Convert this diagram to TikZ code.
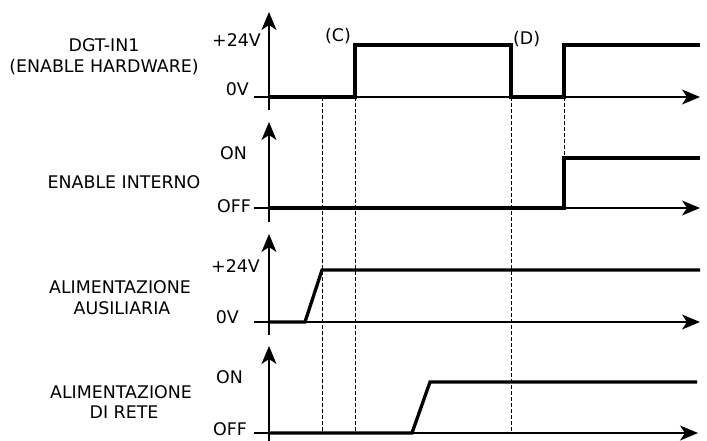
\documentclass[tikz,border=0pt]{standalone}
\usepackage{fontspec}
\setmainfont{DejaVu Sans}
\usetikzlibrary{arrows.meta}
\tikzset{
  axisline/.style={line width=1.6pt, -{Stealth[length=18pt,width=15pt,inset=5pt]}},
  sig/.style={line width=3.3pt, line join=miter},
  guide/.style={line width=0.9pt, dash pattern=on 4pt off 2pt},
  txtstyle/.style={font=\fontsize{17.4}{20}\selectfont, inner sep=0pt},
  levlabel/.style={txtstyle, anchor=base east},
  siglabel/.style={txtstyle, anchor=base},
}
\begin{document}
\begin{tikzpicture}[x=1pt,y=-1pt]
\useasboundingbox (0,0) rectangle (707,441);

% ---------- Panel 1 : DGT-IN1 ----------
\coordinate (v1b) at (269,110); \coordinate (v1t) at (269,12);
\coordinate (h1l) at (254,97);  \coordinate (h1r) at (700,97);
\draw[axisline] (v1b) -- (v1t);
\draw[axisline] (h1l) -- (h1r);
\coordinate (p1a) at (269,97); \coordinate (p1b) at (355,97); \coordinate (p1c) at (355,45);
\coordinate (p1d) at (511,45); \coordinate (p1e) at (511,97); \coordinate (p1f) at (564,97);
\coordinate (p1g) at (564,45); \coordinate (p1h) at (700,45);
\draw[sig] (p1a) -- (p1b) -- (p1c) -- (p1d) -- (p1e) -- (p1f) -- (p1g) -- (p1h);
\node[levlabel] (l1h) at (261,47) {+24V};
\node[levlabel] (l1l) at (249,96) {0V};
\node[txtstyle, anchor=base west] (lC) at (325,42) {(C)};
\node[txtstyle, anchor=base west] (lD) at (513,45) {(D)};
\node[siglabel] (n1a) at (104,52) {DGT-IN1};
\node[siglabel] (n1b) at (104,73) {(ENABLE HARDWARE)};

% ---------- Panel 2 : ENABLE INTERNO ----------
\coordinate (v2b) at (269,222); \coordinate (v2t) at (269,122);
\coordinate (h2l) at (254,208); \coordinate (h2r) at (700,208);
\draw[axisline] (v2b) -- (v2t);
\draw[axisline] (h2l) -- (h2r);
\coordinate (p2a) at (269,208); \coordinate (p2b) at (564,208);
\coordinate (p2c) at (564,158); \coordinate (p2d) at (700,158);
\draw[sig] (p2a) -- (p2b) -- (p2c) -- (p2d);
\node[levlabel] (l2h) at (247,160) {ON};
\node[levlabel] (l2l) at (251,212) {OFF};
\node[siglabel] (n2a) at (124,188) {ENABLE INTERNO};

% ---------- Panel 3 : ALIMENTAZIONE AUSILIARIA ----------
\coordinate (v3b) at (269,335); \coordinate (v3t) at (269,234);
\coordinate (h3l) at (254,322); \coordinate (h3r) at (700,322);
\draw[axisline] (v3b) -- (v3t);
\draw[axisline] (h3l) -- (h3r);
\coordinate (p3a) at (269,322); \coordinate (p3b) at (305,322);
\coordinate (p3c) at (322,270); \coordinate (p3d) at (700,270);
\draw[sig] (p3a) -- (p3b) -- (p3c) -- (p3d);
\node[levlabel] (l3h) at (260,272) {+24V};
\node[levlabel] (l3l) at (239,323) {0V};
\node[siglabel] (n3a) at (120,293) {ALIMENTAZIONE};
\node[siglabel] (n3b) at (122,314) {AUSILIARIA};

% ---------- Panel 4 : ALIMENTAZIONE DI RETE ----------
\coordinate (v4b) at (269,441); \coordinate (v4t) at (269,346);
\coordinate (h4l) at (254,433); \coordinate (h4r) at (698,433);
\draw[axisline] (v4b) -- (v4t);
\draw[axisline] (h4l) -- (h4r);
\coordinate (p4a) at (269,433); \coordinate (p4b) at (412,433);
\coordinate (p4c) at (430,382); \coordinate (p4d) at (697,382);
\draw[sig] (p4a) -- (p4b) -- (p4c) -- (p4d);
\node[levlabel] (l4h) at (243,383) {ON};
\node[levlabel] (l4l) at (247,435) {OFF};
\node[siglabel] (n4a) at (121,398) {ALIMENTAZIONE};
\node[siglabel] (n4b) at (124,418) {DI RETE};

% ---------- dashed guides ----------
\coordinate (g1t) at (322,97);  \coordinate (g1b) at (322,433);
\coordinate (g2t) at (355,97);  \coordinate (g2b) at (355,433);
\coordinate (g3t) at (511,97);  \coordinate (g3b) at (511,433);
\coordinate (g4t) at (564,97);  \coordinate (g4b) at (564,208);
\draw[guide] (g1t) -- (g1b);
\draw[guide] (g2t) -- (g2b);
\draw[guide] (g3t) -- (g3b);
\draw[guide] (g4t) -- (g4b);
\end{tikzpicture}
\end{document}
